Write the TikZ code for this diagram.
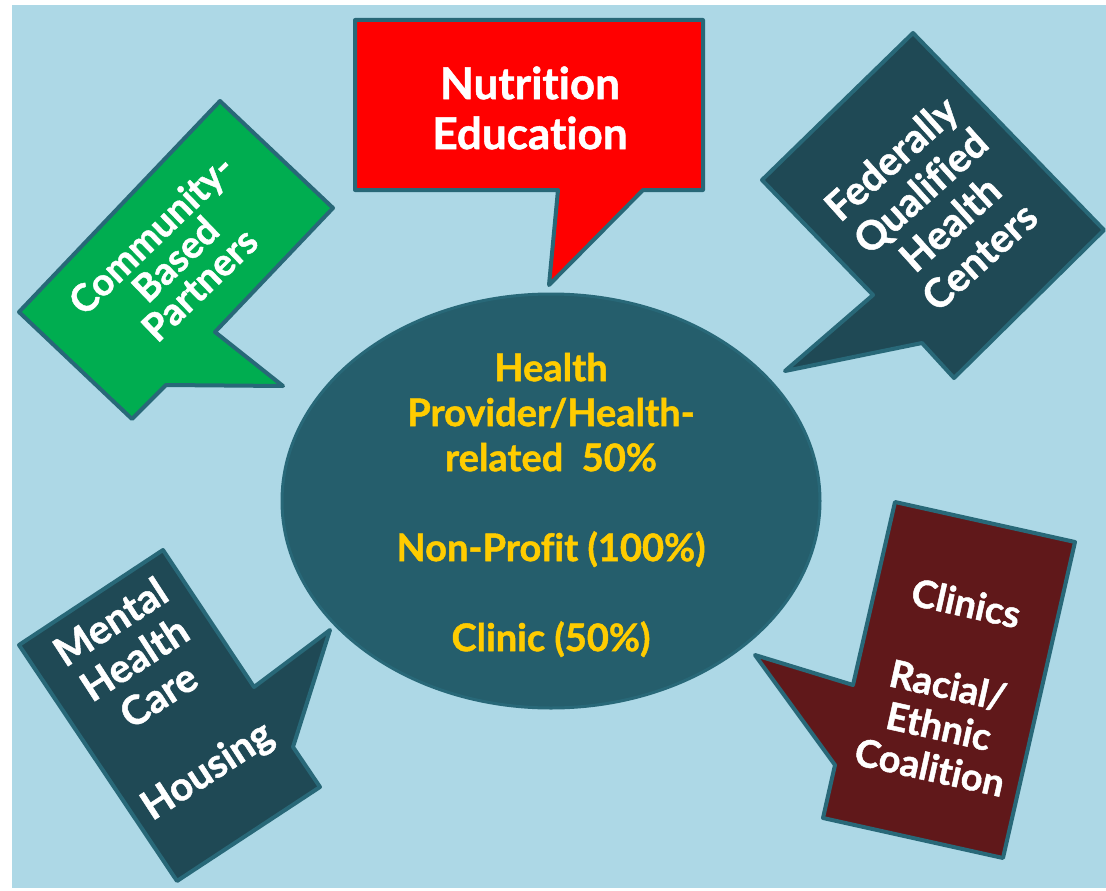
\documentclass[tikz,border=0pt]{standalone}
\usepackage{fontspec}
\setmainfont{Lato}[Ligatures=NoCommon,BoldFeatures={FakeBold=1.2}]
\definecolor{bgblue}{RGB}{173,216,230}
\definecolor{edge}{RGB}{40,104,120}
\definecolor{darkteal}{RGB}{31,73,85}
\definecolor{elfill}{RGB}{37,94,108}
\definecolor{cgreen}{RGB}{0,173,80}
\definecolor{cmaroon}{RGB}{96,24,26}
\definecolor{gold}{RGB}{255,204,0}
\begin{document}
\begin{tikzpicture}[x=1pt,y=-1pt,
  callout/.style={draw=edge,line width=4pt,line join=round},
  lbl/.style={text=white,align=center,inner sep=0pt}]
\path[use as bounding box] (0,0) rectangle (1106,891);
\fill[white] (0,0) rectangle (1106,891);
\fill[bgblue] (12,5) rectangle (1106,888);
% central ellipse
\draw[draw=edge,line width=3pt,fill=elfill] (551,501) ellipse [x radius=269pt, y radius=207pt];
\node[text=gold,align=center,inner sep=0pt,font=\bfseries\fontsize{38}{45}\selectfont] (center) at (551,505)
  {Health\\Provider/Health-\\related~~50\%\\[45pt]Non-Profit (100\%)\\[45pt]Clinic (50\%)};
% callouts
\draw[callout,fill=red] (355,20) -- (703,20) -- (703,190) -- (643,190) -- (549,285) -- (558,190) -- (355,190) -- cycle;
\draw[callout,fill=cgreen] (220,101) -- (333,208) -- (215,332) -- (283,386) -- (166,385) -- (132,419) -- (19,312) -- cycle;
\draw[callout,fill=darkteal] (913,33) -- (1104,230) -- (954,378) -- (922,343) -- (785,371) -- (873,295) -- (762,180) -- cycle;
\draw[callout,fill=darkteal] (163,550) -- (254,687) -- (330,630) -- (293,747) -- (320,787) -- (177,881) -- (19,645) -- cycle;
\draw[callout,fill=cmaroon] (895,502) -- (1075,542) -- (1003,858) -- (823,818) -- (835,765) -- (755,655) -- (853,685) -- cycle;
% labels
\node[lbl,font=\bfseries\fontsize{44}{50}\selectfont] (nut) at (530,108) {Nutrition\\Education};
\node[lbl,rotate=44,font=\bfseries\fontsize{38}{35}\selectfont] (cbp) at (175,259) {Community-\\Based\\Partners};
\node[lbl,rotate=42,font=\bfseries\fontsize{40}{44}\selectfont] (fqhc) at (935,207) {Federally\\Qualified\\Health\\Centers};
\node[lbl,rotate=33,font=\bfseries\fontsize{40}{44}\selectfont] (mhc) at (160,698) {Mental\\Health\\Care\\[44pt]Housing};
\node[lbl,rotate=-12.5,font=\bfseries\fontsize{38}{42}\selectfont] (clin) at (948,685) {Clinics\\[42pt]Racial/\\Ethnic\\Coalition};
\end{tikzpicture}
\end{document}
